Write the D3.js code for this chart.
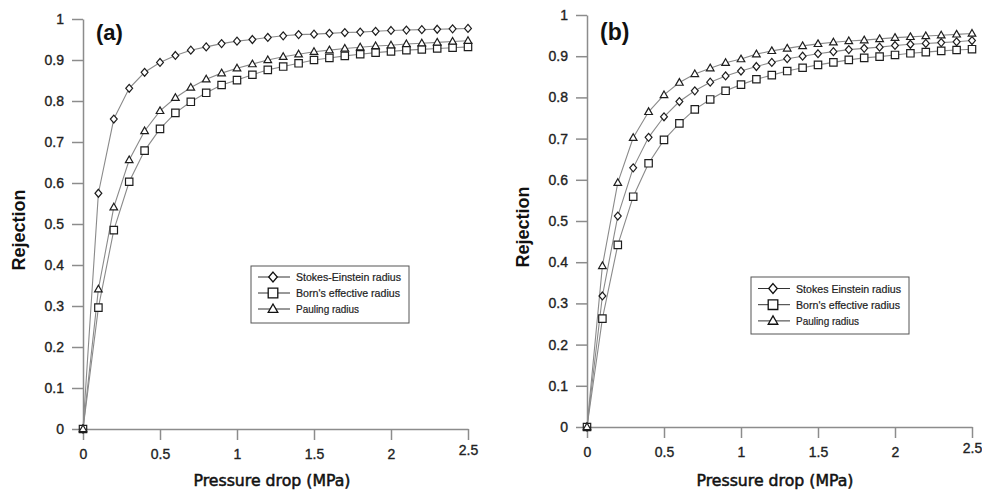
<!DOCTYPE html>
<html><head><meta charset="utf-8">
<script src="https://cdn.jsdelivr.net/npm/d3@7"></script>
<style>
html,body{margin:0;padding:0;background:#fff;}
svg{display:block;}
text{font-family:"Liberation Sans",Arial,sans-serif;}
</style></head>
<body>
<script>
const pressure = [0,0.1,0.2,0.3,0.4,0.5,0.6,0.7,0.8,0.9,1.0,1.1,1.2,1.3,1.4,1.5,1.6,1.7,1.8,1.9,2.0,2.1,2.2,2.3,2.4,2.5];
const xTicks = [0,0.5,1,1.5,2,2.5];
const yTicks = [0,0.1,0.2,0.3,0.4,0.5,0.6,0.7,0.8,0.9,1];

// Panel (a)
const aStokes  = [0,0.575,0.756,0.831,0.870,0.894,0.911,0.924,0.932,0.940,0.946,0.950,0.955,0.959,0.962,0.963,0.965,0.967,0.968,0.970,0.972,0.973,0.974,0.975,0.976,0.977];
const aBorn    = [0,0.296,0.485,0.603,0.679,0.732,0.771,0.798,0.820,0.839,0.851,0.864,0.876,0.884,0.892,0.900,0.905,0.910,0.914,0.918,0.921,0.924,0.926,0.928,0.930,0.932];
const aPauling = [0,0.341,0.541,0.656,0.727,0.776,0.808,0.833,0.853,0.868,0.880,0.890,0.900,0.908,0.914,0.920,0.924,0.928,0.931,0.934,0.936,0.939,0.941,0.943,0.945,0.947];
// Panel (b)
const bStokes  = [0,0.318,0.512,0.629,0.703,0.753,0.790,0.816,0.837,0.852,0.864,0.875,0.885,0.894,0.900,0.906,0.911,0.916,0.919,0.922,0.926,0.929,0.931,0.933,0.935,0.938];
const bBorn    = [0,0.263,0.442,0.559,0.640,0.697,0.737,0.771,0.795,0.816,0.831,0.844,0.854,0.864,0.872,0.879,0.885,0.891,0.896,0.899,0.903,0.907,0.910,0.913,0.915,0.917];
const bPauling = [0,0.391,0.593,0.702,0.765,0.806,0.836,0.857,0.871,0.884,0.893,0.905,0.913,0.919,0.925,0.930,0.934,0.937,0.939,0.942,0.945,0.947,0.949,0.951,0.953,0.955];

const legendA = ["Stokes-Einstein radius","Born's effective radius","Pauling radius"];
const legendB = ["Stokes Einstein radius","Born's effective radius","Pauling radius"];
const markers = ["diamond","square","triangle"];

const W = 982, H = 496;
const svg = d3.select("body").append("svg").attr("width",W).attr("height",H);

const axisColor = "#8c8c8c";
const lineColor = "#8a8a8a";
const markColor = "#1e1e1e";

function markerPath(type, s){
  if(type==="diamond"){ return `M0,${-s*1.1}L${s*0.95},0L0,${s*1.1}L${-s*0.95},0Z`; }
  if(type==="square"){ return `M${-s},${-s}H${s}V${s}H${-s}Z`; }
  return `M0,${-s*1.05}L${s*1.0},${s*0.7}L${-s*1.0},${s*0.7}Z`;
}

function panel(cfg){
  const g = svg.append("g");
  const x = d3.scaleLinear().domain([0,2.5]).range([cfg.x0,cfg.x1]);
  const y = d3.scaleLinear().domain([0,1]).range([cfg.y0,cfg.y1]);

  const yAx = g.append("g").attr("transform",`translate(${cfg.x0},0)`)
    .call(d3.axisLeft(y).tickValues(yTicks).tickSize(11).tickSizeOuter(0).tickPadding(8)
      .tickFormat(d=>d===0?"0":(d===1?"1":d3.format(".1f")(d))));
  const xAx = g.append("g").attr("transform",`translate(0,${cfg.y0})`)
    .call(d3.axisBottom(x).tickValues(xTicks).tickSize(11).tickSizeOuter(0).tickPadding(9)
      .tickFormat(d=>String(d)));
  [yAx,xAx].forEach(a=>{
    a.select(".domain").attr("stroke",axisColor).attr("stroke-width",1.5);
    a.selectAll(".tick line").attr("stroke",axisColor).attr("stroke-width",1.5);
    a.selectAll(".tick text").attr("fill","#222").style("font-size","14px")
      .attr("stroke","#222").attr("stroke-width",0.35)
      .style("font-family","'Liberation Sans',Arial,sans-serif");
  });
  xAx.selectAll(".tick text").filter(d=>d===2.5).attr("dy","0.4em");

  const series = cfg.series;
  const line = d3.line().x((d,i)=>x(pressure[i])).y(d=>y(d));
  series.forEach(s=>{
    g.append("path").datum(s.values).attr("d",line)
      .attr("fill","none").attr("stroke",lineColor).attr("stroke-width",1.1);
  });
  series.forEach(s=>{
    g.selectAll(null).data(s.values).enter().append("path")
      .attr("transform",(d,i)=>`translate(${x(pressure[i])},${y(d)})`)
      .attr("d",markerPath(s.marker, s.marker==="square"?3.7:(s.marker==="diamond"?3.6:3.8)))
      .attr("fill","#fff").attr("stroke",markColor).attr("stroke-width",1.2);
  });

  // panel label
  g.append("text").attr("x",cfg.labelX).attr("y",cfg.labelY)
    .style("font-size",cfg.labelSize+"px").style("font-weight","bold").attr("fill","#111")
    .text(cfg.label);

  // axis titles
  g.append("text").attr("transform",`translate(${cfg.yTitleX},${(cfg.y0+cfg.y1)/2+6}) rotate(-90)`)
    .attr("text-anchor","middle").style("font-size","18px").style("font-weight","bold").attr("fill","#111")
    .text("Rejection");
  g.append("text").attr("x",(cfg.x0+cfg.x1)/2+cfg.xTitleDx).attr("y",cfg.xTitleY)
    .attr("text-anchor","middle").style("font-size","15px").attr("fill","#111")
    .attr("stroke","#111").attr("stroke-width",0.5)
    .style("font-family","'DejaVu Sans',sans-serif").attr("textLength",157).attr("lengthAdjust","spacingAndGlyphs")
    .text("Pressure drop (MPa)");

  // legend
  const L = cfg.legend;
  const lg = g.append("g");
  lg.append("rect").attr("x",L.x).attr("y",L.y).attr("width",L.w).attr("height",L.h)
    .attr("fill","#fff").attr("stroke","#555").attr("stroke-width",1);
  series.forEach((s,i)=>{
    const cy = L.y + L.row0 + i*L.dy;
    lg.append("line").attr("x1",L.x+7).attr("x2",L.x+39).attr("y1",cy).attr("y2",cy)
      .attr("stroke","#333").attr("stroke-width",1);
    lg.append("path").attr("transform",`translate(${L.x+22},${cy})`)
      .attr("d",markerPath(s.marker, s.marker==="square"?4.8:(s.marker==="diamond"?4.5:4.8)))
      .attr("fill","#fff").attr("stroke","#111").attr("stroke-width",1.3);
    lg.append("text").attr("x",L.x+45).attr("y",cy+4)
      .style("font-size","11px").attr("fill","#222").attr("stroke","#222").attr("stroke-width",0.2)
      .attr("textLength",L.textLens[i]).attr("lengthAdjust","spacingAndGlyphs")
      .text(s.name);
  });
}

panel({
  x0:83, x1:468, y0:429, y1:19,
  label:"(a)", labelX:96, labelY:40, labelSize:22,
  yTitleX:25, xTitleY:486, xTitleDx:-3.5,
  legend:{x:251,y:266,w:158,h:57,row0:11,dy:16,textLens:[105,104,63]},
  series:[
    {name:legendA[0], values:aStokes, marker:markers[0]},
    {name:legendA[1], values:aBorn, marker:markers[1]},
    {name:legendA[2], values:aPauling, marker:markers[2]}
  ]
});
panel({
  x0:587, x1:972, y0:427, y1:15,
  label:"(b)", labelX:600, labelY:40, labelSize:23,
  yTitleX:529, xTitleY:486, xTitleDx:-4.5,
  legend:{x:751,y:277,w:158,h:57,row0:11.5,dy:16.2,textLens:[105,104,63]},
  series:[
    {name:legendB[0], values:bStokes, marker:markers[0]},
    {name:legendB[1], values:bBorn, marker:markers[1]},
    {name:legendB[2], values:bPauling, marker:markers[2]}
  ]
});
</script>
</body></html>
